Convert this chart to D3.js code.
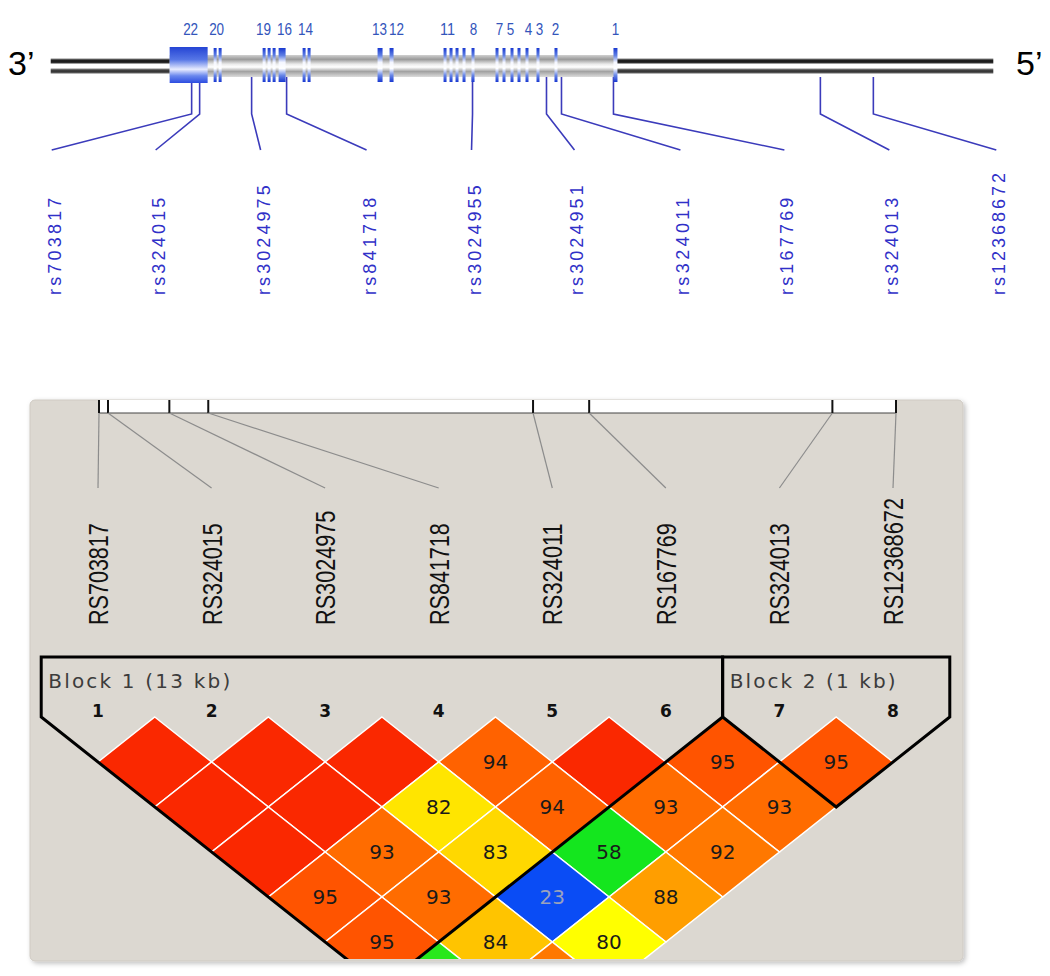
<!DOCTYPE html>
<html><head><meta charset="utf-8">
<script src="https://cdn.jsdelivr.net/npm/d3@7"></script>
<style>body{margin:0;background:#fff} svg{display:block}</style>
</head><body>
<script>
// ---------------- gene structure (map units along the drawn locus, 3' -> 5') ----------------
const locusRange = [0, 943];
const geneSpan = [119, 566];
const exonStart = [119, 163, 168, 212, 217, 222, 228, 252, 257, 327, 339, 393, 399, 405, 412, 421, 445, 452, 460, 467, 475, 486, 504, 563];
const exonEnd   = [157, 166, 171, 215, 220, 225, 235, 255, 260, 332, 343, 396, 402, 408, 415, 424, 448, 455, 463, 470, 478, 489, 507, 567];
const exonLabels = ["22","20","19","16","14","13","12","11","8","7","5","4","3","2","1"];
const exonLabelPos = [140, 166, 213, 234, 255, 329, 346, 397, 423, 449, 460, 478, 489, 505, 565];
const geneSnps = ["rs703817","rs324015","rs3024975","rs841718","rs3024955","rs3024951","rs324011","rs167769","rs324013","rs12368672"];
const geneSnpPos = [141, 149, 201, 236, 422, 496, 511, 563, 770, 823];
const geneSnpLabelPos = [1, 105, 210, 316, 421, 524, 630, 734, 839, 946];

// ---------------- Haploview LD plot ----------------
const markers = ["RS703817","RS324015","RS3024975","RS841718","RS324011","RS167769","RS324013","RS12368672"];
const markerKb = [0, 0.24, 1.88, 2.92, 11.6, 13.1, 19.6, 21.3];
// D' x 100 by marker distance (row 1 = adjacent pairs); 100 shown without number
const dprimeRows = [
  [100, 100, 100, 94, 100, 95, 95],
  [100, 100, 82, 94, 93, 93],
  [100, 93, 83, 58, 92],
  [95, 93, 23, 88],
  [95, 84, 80],
  [60, 92],
  [90]
];
const blockStart = [1, 7];
const blockEnd = [6, 8];
const blockLabels = ["Block 1 (13 kb)", "Block 2 (1 kb)"];

const W = 1050, H = 976;
const svg = d3.select("body").append("svg").attr("width", W).attr("height", H);
const defs = svg.append("defs");

function vGrad(id, stops) {
  const g = defs.append("linearGradient").attr("id", id).attr("x1", 0).attr("y1", 0).attr("x2", 0).attr("y2", 1);
  stops.forEach(s => g.append("stop").attr("offset", s[0]).attr("stop-color", s[1]));
}
vGrad("lineTop", [[0, "#8a8a8a"], [0.45, "#111"], [1, "#3a3a3a"]]);
vGrad("lineBot", [[0, "#8a8a8a"], [0.5, "#2a2a2a"], [1, "#6a6a6a"]]);
vGrad("geneBody", [[0, "#d0d0d0"], [0.2, "#9a9a9a"], [0.42, "#ececec"], [0.55, "#ffffff"], [0.75, "#a2a2a2"], [1, "#dcdcdc"]]);
vGrad("exonG", [[0, "#1838d0"], [0.22, "#6080e4"], [0.42, "#f4f6ff"], [0.6, "#ffffff"], [0.8, "#6a88e8"], [1, "#1838d0"]]);
vGrad("boxG", [[0, "#2444d4"], [0.35, "#5676e6"], [0.62, "#e8ecff"], [0.8, "#6a88ee"], [1, "#2c4ce0"]]);

// ---------- gene diagram ----------
const gx = d3.scaleLinear().domain(locusRange).range([50.7, 993.3]);
const gTop = svg.append("g");

gTop.append("text").attr("x", 8).attr("y", 75).attr("font-family", "Liberation Sans, Arial, sans-serif")
  .attr("font-size", 34).attr("fill", "#000").text("3\u2019");
gTop.append("text").attr("x", 1016).attr("y", 75).attr("font-family", "Liberation Sans, Arial, sans-serif")
  .attr("font-size", 34).attr("fill", "#000").text("5\u2019");

gTop.append("rect").attr("x", gx(locusRange[0])).attr("y", 58.5).attr("width", gx(locusRange[1]) - gx(locusRange[0])).attr("height", 5).attr("fill", "url(#lineTop)");
gTop.append("rect").attr("x", gx(locusRange[0])).attr("y", 68.5).attr("width", gx(locusRange[1]) - gx(locusRange[0])).attr("height", 5).attr("fill", "url(#lineBot)");
gTop.append("rect").attr("x", gx(geneSpan[0])).attr("y", 55).attr("width", gx(geneSpan[1]) - gx(geneSpan[0])).attr("height", 22).attr("fill", "url(#geneBody)");

// SNP connector lines
const snpColor = "#3b3bbb";
geneSnps.forEach((s, i) => {
  const x0 = gx(geneSnpPos[i]), x1 = gx(geneSnpLabelPos[i]);
  gTop.append("polyline").attr("points", `${x0},77 ${x0},114 ${x1},150`)
    .attr("fill", "none").attr("stroke", snpColor).attr("stroke-width", 1.6);
  gTop.append("text")
    .attr("transform", `translate(${x1 + 9},295) rotate(-90)`)
    .attr("font-family", "Liberation Sans, Arial, sans-serif").attr("font-size", 18)
    .attr("fill", "#3030c8").attr("textLength", s.length * 12.3 - 1).attr("lengthAdjust", "spacing").text(s);
});

// exons
exonStart.forEach((s, i) => {
  const big = i === 0;
  gTop.append("rect").attr("x", gx(s)).attr("y", big ? 47 : 48).attr("width", gx(exonEnd[i]) - gx(s))
    .attr("height", big ? 36 : 34).attr("fill", big ? "url(#boxG)" : "url(#exonG)");
});
// exon labels
exonLabels.forEach((l, i) => {
  gTop.append("text").attr("x", gx(exonLabelPos[i])).attr("y", 35).attr("text-anchor", "middle")
    .attr("font-family", "Liberation Sans, Arial, sans-serif").attr("font-size", 17)
    .attr("fill", "#3355bb").attr("textLength", l.length * 7.5).attr("lengthAdjust", "spacingAndGlyphs").text(l);
});

// ---------- Haploview panel ----------
const filt = defs.append("filter").attr("id", "shadow").attr("x", "-5%").attr("y", "-5%").attr("width", "110%").attr("height", "110%");
filt.append("feDropShadow").attr("dx", 2).attr("dy", 2).attr("stdDeviation", 2.5).attr("flood-color", "#000").attr("flood-opacity", 0.25);

const panel = { x: 30, y: 400, w: 933, h: 561 };
svg.append("rect").attr("x", panel.x).attr("y", panel.y).attr("width", panel.w).attr("height", panel.h)
  .attr("rx", 5).attr("fill", "#dcd8d1").attr("stroke", "#cfcac3").attr("filter", "url(#shadow)");

const mx = d3.scaleLinear().domain([1, markers.length]).range([98, 893]);
const px = d3.scaleLinear().domain([markerKb[0], markerKb[markerKb.length - 1]]).range([99, 896]);

const hv = svg.append("g");
// physical map strip
hv.append("rect").attr("x", px(markerKb[0])).attr("y", 400).attr("width", px(markerKb[markerKb.length - 1]) - px(markerKb[0])).attr("height", 13)
  .attr("fill", "#fff");
hv.append("line").attr("x1", px(markerKb[0])).attr("x2", px(markerKb[markerKb.length - 1])).attr("y1", 413).attr("y2", 413)
  .attr("stroke", "#444").attr("stroke-width", 1.2);
markerKb.forEach((k, i) => {
  hv.append("line").attr("x1", px(k)).attr("x2", px(k)).attr("y1", 400).attr("y2", 413).attr("stroke", "#111").attr("stroke-width", 2);
  hv.append("line").attr("x1", px(k)).attr("y1", 413).attr("x2", mx(i + 1)).attr("y2", 488)
    .attr("stroke", "#8c8c8c").attr("stroke-width", 1.2);
  hv.append("text").attr("transform", `translate(${mx(i + 1) + 10},625) rotate(-90)`)
    .attr("font-family", "Liberation Sans, Arial, sans-serif").attr("font-size", 28).attr("fill", "#111")
    .attr("textLength", markers[i].length * 12.6 + 1).attr("lengthAdjust", "spacingAndGlyphs").text(markers[i]);
});

// LD diamonds
const hw = (mx(2) - mx(1)) / 2, hh = 45, y0 = 762;
const color = d3.scaleLinear()
  .domain([23, 58, 80, 83, 84, 88, 92, 93, 94, 95, 100])
  .range(["#0a4cf5", "#14e61e", "#ffff00", "#ffd800", "#ffc400", "#ff9e00", "#ff7800", "#ff6c00", "#ff6200", "#ff5400", "#fa2800"]);

const clipBottom = panel.y + panel.h - 2;
defs.append("clipPath").attr("id", "panelClip").append("rect")
  .attr("x", panel.x).attr("y", panel.y).attr("width", panel.w).attr("height", panel.h - 2);
const ld = svg.append("g").attr("clip-path", "url(#panelClip)");

dprimeRows.forEach((row, r) => {
  row.forEach((v, k) => {
    const i = k + 1, j = k + 2 + r;
    const cx = (mx(i) + mx(j)) / 2, cy = y0 + r * hh;
    ld.append("polygon").attr("points", `${cx},${cy - hh} ${cx + hw},${cy} ${cx},${cy + hh} ${cx - hw},${cy}`)
      .attr("fill", color(v)).attr("stroke", "#fff").attr("stroke-width", 1.5);
    if (v < 100 && cy + 7 < clipBottom) {
      ld.append("text").attr("x", cx).attr("y", cy + 7).attr("text-anchor", "middle")
        .attr("font-family", "DejaVu Sans, Verdana, sans-serif").attr("font-size", 20)
        .attr("fill", v < 40 ? "#9aa2bc" : "#1a1a1a").text(v);
    }
  });
});

// blocks
const topY = 657, rowTop = y0 - hh;
const blockLabelLen = [182, 166];
blockStart.forEach((a, b) => {
  const e = blockEnd[b];
  const xl = mx(a) - hw, xr = mx(e) + hw, mid = (mx(a) + mx(e)) / 2;
  const bottom = y0 + (e - a) * hh;
  ld.append("polygon").attr("points", `${xl},${topY} ${xr},${topY} ${xr},${rowTop} ${mid},${bottom} ${xl},${rowTop}`)
    .attr("fill", "none").attr("stroke", "#000").attr("stroke-width", 3).attr("stroke-linejoin", "miter");
  ld.append("text").attr("x", xl + 7).attr("y", 688).attr("font-family", "DejaVu Sans, Verdana, sans-serif")
    .attr("font-size", 20).attr("fill", "#3c3c3c")
    .attr("textLength", blockLabelLen[b]).attr("lengthAdjust", "spacing").text(blockLabels[b]);
});
markers.forEach((m, i) => {
  ld.append("text").attr("x", mx(i + 1)).attr("y", 717).attr("text-anchor", "middle")
    .attr("font-family", "DejaVu Sans, Verdana, sans-serif").attr("font-weight", "bold").attr("font-size", 17)
    .attr("fill", "#111").text(i + 1);
});
</script>
</body></html>
